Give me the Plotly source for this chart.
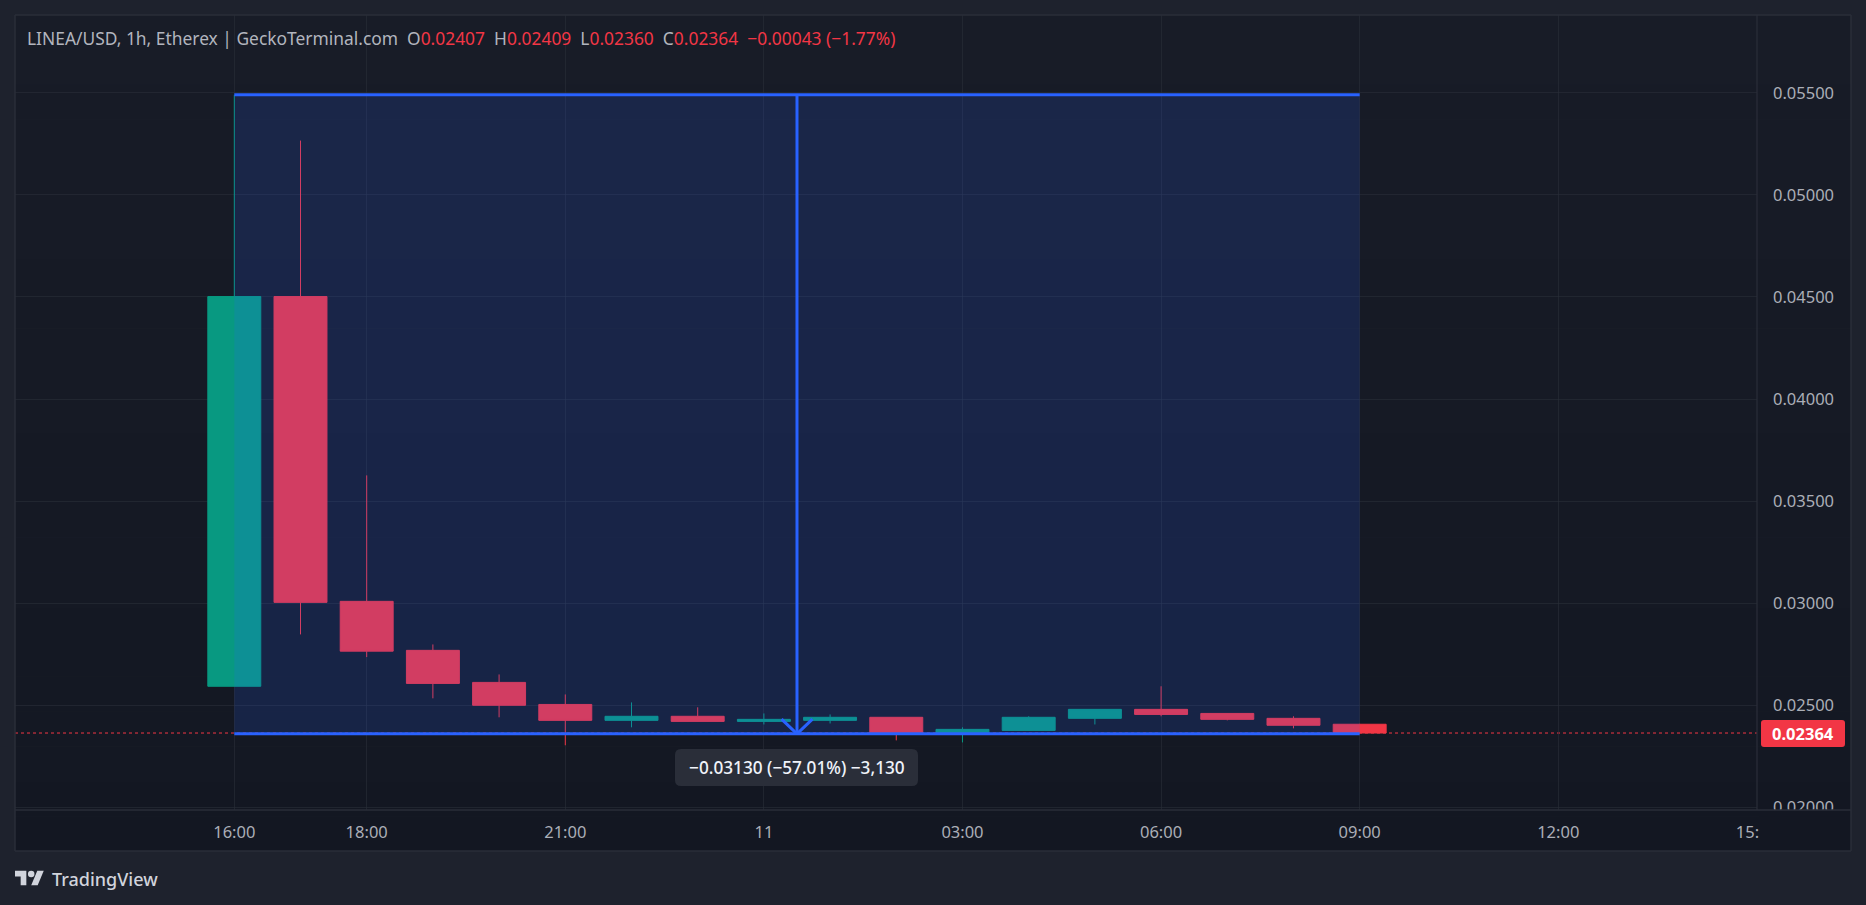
import pandas as pd
import plotly.graph_objects as go

candle_times = pd.date_range("2025-09-10 16:00", periods=18, freq="h")

opens = [0.02593, 0.04502, 0.03009, 0.02769, 0.02612, 0.02504, 0.02426, 0.02446, 0.02421,
         0.02426, 0.02441, 0.02357, 0.02377, 0.02436, 0.02480, 0.02460, 0.02436, 0.02407]
highs = [0.05490, 0.05266, 0.03626, 0.02798, 0.02651, 0.02553, 0.02514, 0.02490, 0.02460,
         0.02455, 0.02441, 0.02392, 0.02446, 0.02480, 0.02593, 0.02460, 0.02446, 0.02409]
lows = [0.02593, 0.02847, 0.02736, 0.02534, 0.02441, 0.02304, 0.02392, 0.02421, 0.02406,
        0.02411, 0.02328, 0.02318, 0.02377, 0.02406, 0.02446, 0.02426, 0.02387, 0.02360]
closes = [0.04502, 0.03004, 0.02765, 0.02607, 0.02500, 0.02426, 0.02446, 0.02421, 0.02431,
          0.02441, 0.02362, 0.02382, 0.02441, 0.02480, 0.02455, 0.02431, 0.02402, 0.02364]

x_tick_times = ["2025-09-10 16:00", "2025-09-10 18:00", "2025-09-10 21:00", "2025-09-11 00:00",
                "2025-09-11 03:00", "2025-09-11 06:00", "2025-09-11 09:00", "2025-09-11 12:00",
                "2025-09-11 15:00"]
x_tick_labels = ["16:00", "18:00", "21:00", "11", "03:00", "06:00", "09:00", "12:00", "15:00"]
price_ticks = [0.020, 0.025, 0.030, 0.035, 0.040, 0.045, 0.050, 0.055]

measure_start = "2025-09-10 16:00"
measure_end = "2025-09-11 09:00"
measure_mid = "2025-09-11 00:30"
measure_high = 0.05490
measure_low = 0.02360
last_price = 0.02364

FONT = "Noto Sans"
BG_OUTER = "#1E222D"
SEPARATOR = "#2A2E39"
GRID = "rgba(42,46,57,0.6)"
TEXT = "#ABAEB7"
UP = "#089981"
DOWN = "#F23645"
BLUE = "#2962FF"
BG_TOP = (24, 28, 39)
BG_BOTTOM = (19, 23, 34)

# pixel box of the plot area inside the 1866x905 page
LEFT, RIGHT, TOP, BOTTOM = 15, 1757, 15, 810


def px(x, y):
    return (x - LEFT) / (RIGHT - LEFT), (BOTTOM - y) / (BOTTOM - TOP)


def panel_color(y):
    t = min(max((y - 15) / (851 - 15), 0), 1)
    r, g, b = [round(a + (c - a) * t) for a, c in zip(BG_TOP, BG_BOTTOM)]
    return f"rgb({r},{g},{b})"


def paper_rect(x0, y0, x1, y1, color, layer="below"):
    a, b = px(x0, y0)
    c, d = px(x1, y1)
    return dict(type="rect", xref="paper", yref="paper", x0=a, y0=b, x1=c, y1=d,
                fillcolor=color, line_width=0, layer=layer)


def paper_line(x0, y0, x1, y1, color, width=1.2):
    a, b = px(x0, y0)
    c, d = px(x1, y1)
    return dict(type="line", xref="paper", yref="paper", x0=a, y0=b, x1=c, y1=d,
                line=dict(color=color, width=width), layer="above")


def paper_path(path, color):
    return dict(type="path", xref="paper", yref="paper", path=path, fillcolor=color,
                line_width=0, layer="above")


def pt(x, y):
    a, b = px(x, y)
    return f"{a:.5f},{b:.5f}"


def rounded_box(x0, y0, x1, y1, r, color):
    path = (f"M{pt(x0 + r, y0)} L{pt(x1 - r, y0)} Q{pt(x1, y0)} {pt(x1, y0 + r)} "
            f"L{pt(x1, y1 - r)} Q{pt(x1, y1)} {pt(x1 - r, y1)} L{pt(x0 + r, y1)} "
            f"Q{pt(x0, y1)} {pt(x0, y1 - r)} L{pt(x0, y0 + r)} Q{pt(x0, y0)} {pt(x0 + r, y0)} Z")
    return paper_path(path, color)


def logo_shapes(x0, y0, s, color):
    def p(u, v):
        return pt(x0 + u * s, y0 + v * s)

    left = f"M{p(14, 22)} L{p(7, 22)} L{p(7, 11)} L{p(0, 11)} L{p(0, 4)} L{p(14, 4)} Z"
    slash = f"M{p(28, 22)} L{p(20, 22)} L{p(27.5, 4)} L{p(35.5, 4)} Z"
    dot = (f"M{p(16, 8)} Q{p(16, 4)} {p(20, 4)} Q{p(24, 4)} {p(24, 8)} "
           f"Q{p(24, 12)} {p(20, 12)} Q{p(16, 12)} {p(16, 8)} Z")
    return [paper_path(left, color), paper_path(slash, color), paper_path(dot, color)]


def paper_text(x, y, text, size, color, anchor="left", weight=None):
    a, b = px(x, y)
    font = dict(family=FONT, size=size, color=color)
    if weight:
        font["weight"] = weight
    return dict(xref="paper", yref="paper", x=a, y=b, text=text, showarrow=False,
                xanchor=anchor, yanchor="middle", align=anchor, font=font)


fig = go.Figure()

fig.add_trace(
    go.Candlestick(
        x=candle_times,
        open=opens,
        high=highs,
        low=lows,
        close=closes,
        increasing=dict(line=dict(color=UP, width=1), fillcolor=UP),
        decreasing=dict(line=dict(color=DOWN, width=1), fillcolor=DOWN),
        whiskerwidth=0,
        showlegend=False,
        hoverinfo="skip",
    )
)

# vertical panel gradient, TradingView's dark background
bands = []
for i in range(24):
    y0 = 15 + i * (851 - 15) / 24
    y1 = 15 + (i + 1) * (851 - 15) / 24
    bands.append(paper_rect(15, y0, 1851, y1, panel_color((y0 + y1) / 2)))

shapes = bands + [
    # measure tool
    dict(type="rect", x0=measure_start, x1=measure_end, y0=measure_low, y1=measure_high,
         fillcolor="rgba(41,98,255,0.16)", line_width=0, layer="above"),
    dict(type="line", xref="paper", x0=0, x1=1, y0=last_price, y1=last_price,
         line=dict(color=DOWN, width=1, dash="dot"), layer="below"),
    dict(type="line", x0=measure_start, x1=measure_end, y0=measure_high, y1=measure_high,
         line=dict(color=BLUE, width=3), layer="above"),
    dict(type="line", x0=measure_start, x1=measure_end, y0=measure_low, y1=measure_low,
         line=dict(color=BLUE, width=3), layer="above"),
    dict(type="line", x0=measure_mid, x1=measure_mid, y0=measure_high, y1=measure_low,
         line=dict(color=BLUE, width=3), layer="above"),
    dict(type="line", x0="2025-09-11 00:16", x1=measure_mid, y0=0.02432, y1=measure_low,
         line=dict(color=BLUE, width=3), layer="above"),
    dict(type="line", x0="2025-09-11 00:44", x1=measure_mid, y0=0.02432, y1=measure_low,
         line=dict(color=BLUE, width=3), layer="above"),
    # covers what TradingView clips under the price scale
    paper_rect(1759, 810, 1850, 850, panel_color(830), layer="above"),
    # panel frame and scale separators
    paper_line(15, 15, 1851, 15, SEPARATOR, 1.5),
    paper_line(15, 851, 1851, 851, SEPARATOR, 1.5),
    paper_line(15, 15, 15, 851, SEPARATOR, 1.5),
    paper_line(1851, 15, 1851, 851, SEPARATOR, 1.5),
    paper_line(15, 810, 1851, 810, SEPARATOR, 1.5),
    paper_line(1757, 15, 1757, 810, SEPARATOR, 1.2),
    rounded_box(675, 749, 918, 786, 6, "#2A2E39"),
    rounded_box(1761, 720, 1845, 747, 3, DOWN),
] + logo_shapes(15, 867.5, 0.81, "#D1D4DC")

header = (
    "LINEA/USD, 1h, Etherex | GeckoTerminal.com&nbsp;&nbsp;"
    f"O<span style='color:{DOWN}'>0.02407</span>&nbsp;&nbsp;"
    f"H<span style='color:{DOWN}'>0.02409</span>&nbsp;&nbsp;"
    f"L<span style='color:{DOWN}'>0.02360</span>&nbsp;&nbsp;"
    f"C<span style='color:{DOWN}'>0.02364</span>&nbsp;&nbsp;"
    f"<span style='color:{DOWN}'>−0.00043 (−1.77%)</span>"
)

annotations = [
    paper_text(24.5, 38, header, 17.4, "#B2B5BE"),
    paper_text(796.5, 767.5, "−0.03130 (−57.01%) −3,130", 17.2, "#F0F3FA", "center", weight=500),
    paper_text(1803, 733.5, "<b>0.02364</b>", 16.5, "#FFFFFF", "center"),
    paper_text(50, 879, "TradingView", 18, "#D1D4DC", weight=500),
]

fig.update_layout(
    width=1866,
    height=905,
    margin=dict(l=LEFT, r=1866 - RIGHT, t=TOP, b=905 - BOTTOM, autoexpand=False),
    paper_bgcolor=BG_OUTER,
    plot_bgcolor="rgba(0,0,0,0)",
    showlegend=False,
    boxgap=0.2,
    boxgroupgap=0,
    shapes=shapes,
    annotations=annotations,
    font=dict(family=FONT, size=16.5, color=TEXT),
)

x_first = candle_times[0]
fig.update_xaxes(
    type="date",
    range=[x_first - pd.Timedelta(hours=3.3127), x_first + pd.Timedelta(hours=23.002)],
    rangeslider_visible=False,
    tickmode="array",
    tickvals=x_tick_times,
    ticktext=x_tick_labels,
    ticks="",
    ticklabelstandoff=10,
    tickangle=0,
    showgrid=True,
    gridcolor=GRID,
    gridwidth=1,
    zeroline=False,
    showline=False,
)
fig.update_yaxes(
    side="right",
    range=[0.01987, 0.05881],
    tickmode="array",
    tickvals=price_ticks,
    tickformat=".5f",
    ticks="",
    ticklabelstandoff=15,
    showgrid=True,
    gridcolor=GRID,
    gridwidth=1,
    zeroline=False,
    showline=False,
)

fig.write_html(
    "out.html",
    config={"displayModeBar": False},
    post_script="document.body.style.margin='0';document.body.style.overflow='hidden';",
)
